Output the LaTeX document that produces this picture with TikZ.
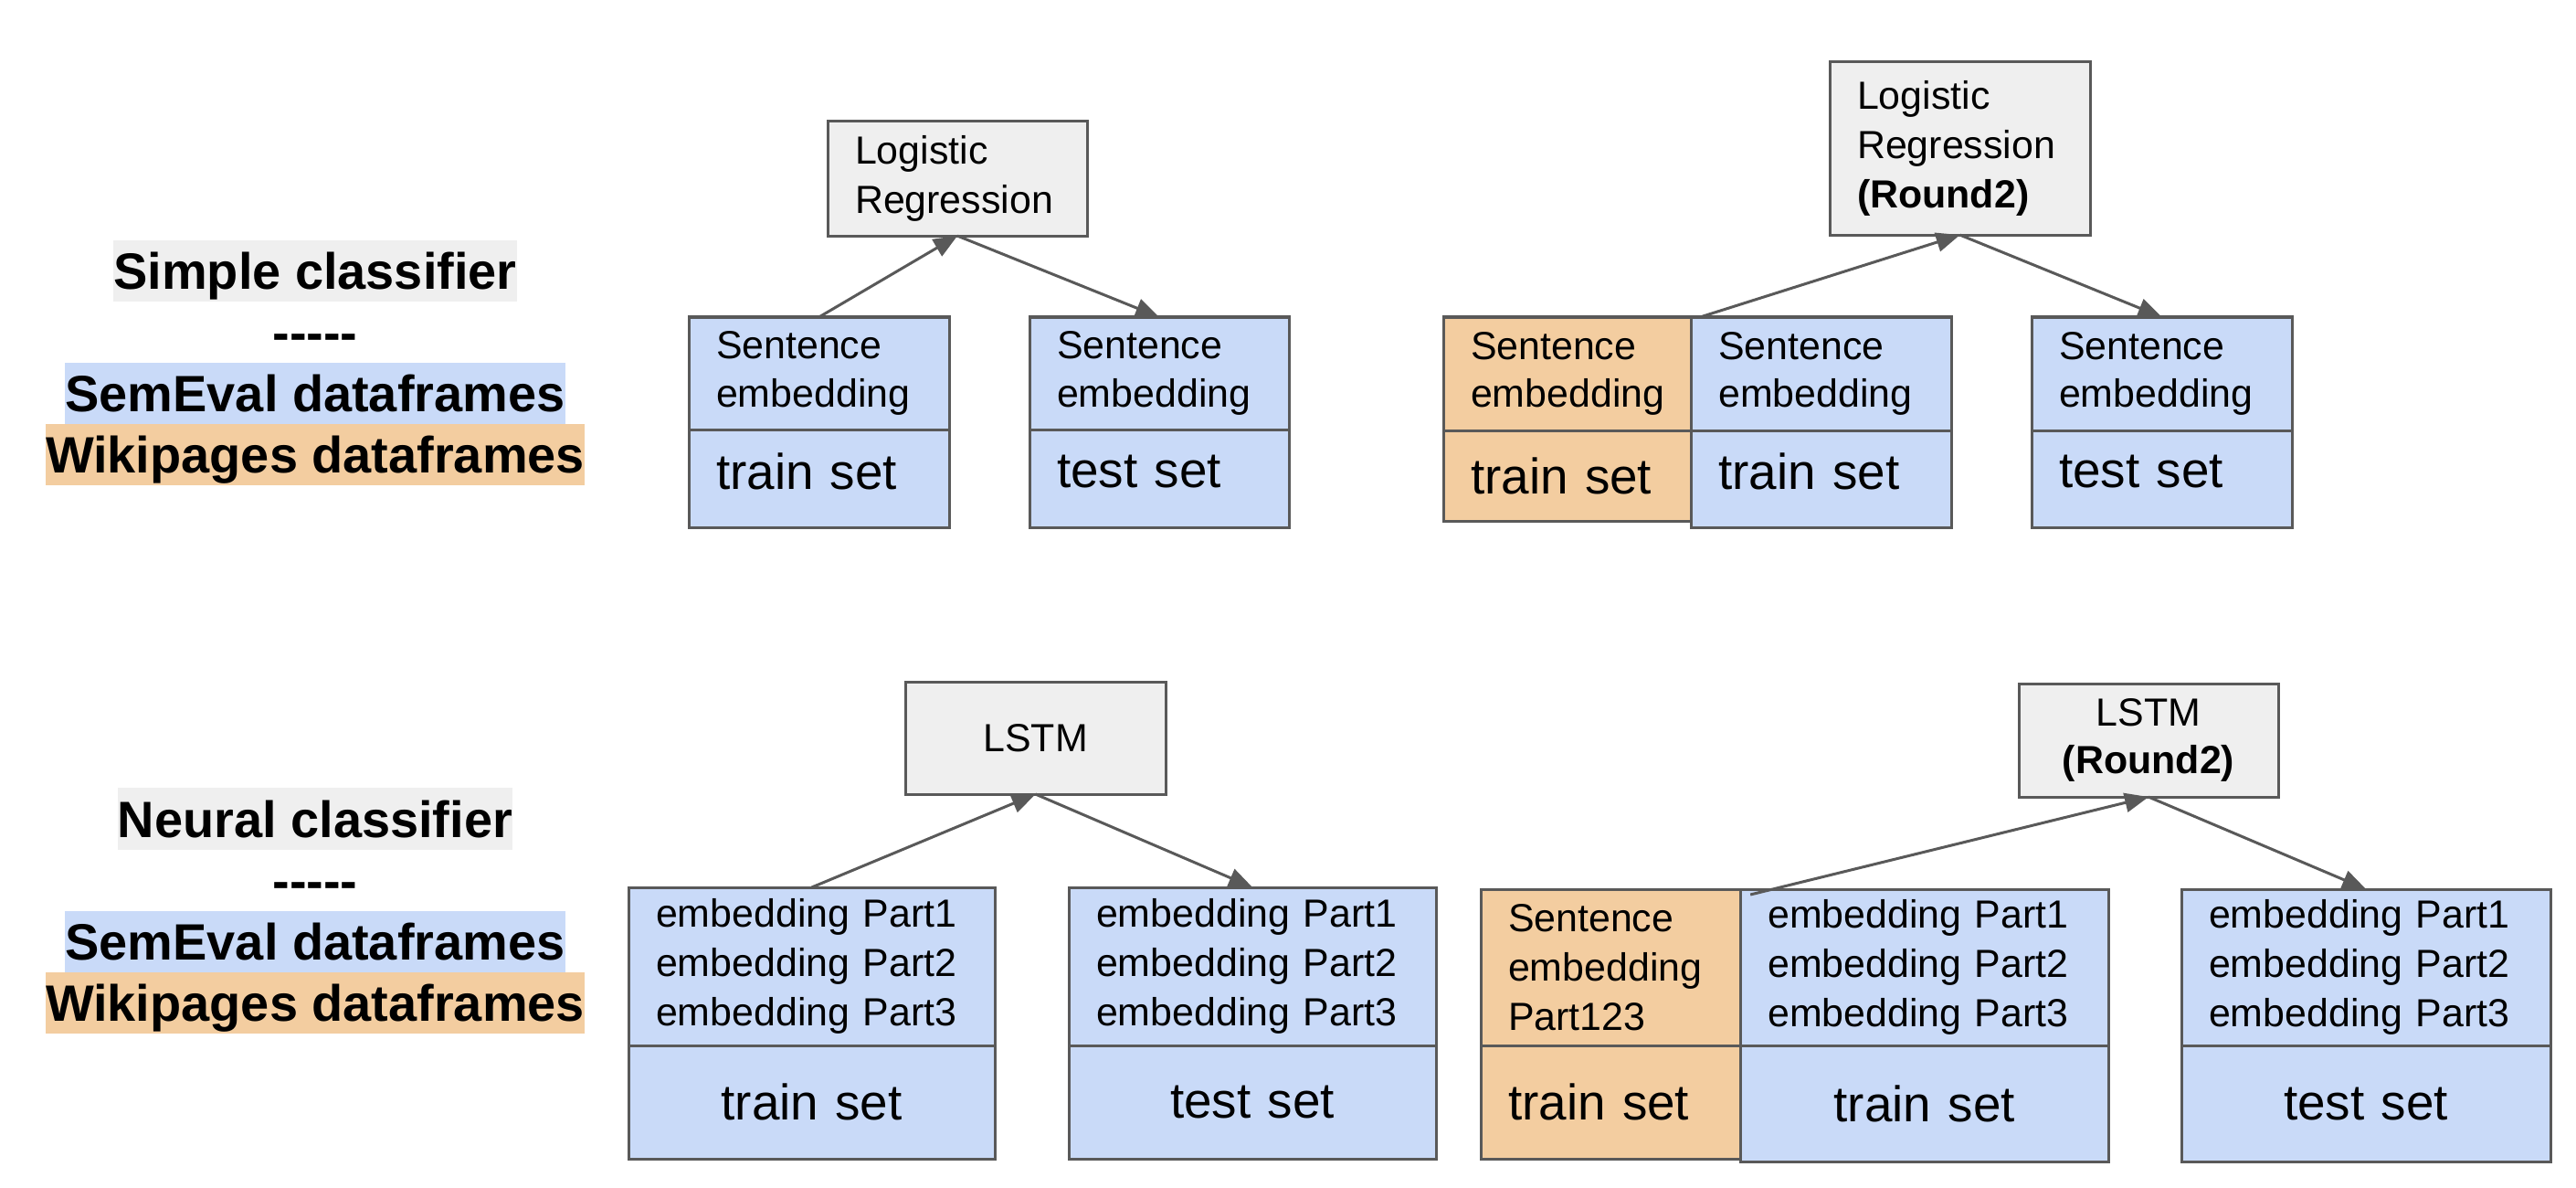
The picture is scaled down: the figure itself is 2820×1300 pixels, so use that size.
\documentclass[tikz,border=0pt]{standalone}
\usepackage{fontspec}
\setmainfont{Liberation Sans}
\usetikzlibrary{positioning,arrows.meta}
\definecolor{edgegray}{HTML}{595959}
\definecolor{modelgray}{HTML}{EFEFEF}
\definecolor{semblue}{HTML}{C9DAF8}
\definecolor{wikiorange}{HTML}{F3CDA0}
\newcommand{\smalltxt}[1]{\fontsize{12.2}{#1}\selectfont}
\tikzset{
  lbl/.style={font=\bfseries\fontsize{15.9}{19}\selectfont, inner sep=0, outer sep=0,
    minimum height=0.67cm, text height=0.504cm, text depth=0.103cm},
  cellbox/.style={draw=edgegray, line width=0.03cm, outer sep=0, inner xsep=0.3cm, inner ysep=0},
  model/.style={cellbox, fill=modelgray},
  sem/.style={cellbox, fill=semblue},
  wiki/.style={cellbox, fill=wikiorange},
  settxt/.style={font=\fontsize{15.6}{18}\selectfont},
  uptxt/.style={settxt, text depth=0.16cm},
  arr/.style={draw=edgegray, line width=0.03cm, -{Triangle[length=0.26cm,width=0.21cm]}},
}
\begin{document}
\begin{tikzpicture}[x=0.01cm, y=-0.01cm]
\useasboundingbox (0,0) rectangle (2820,1300);
% legend, simple classifier
\node[lbl, fill=modelgray] (simple) at (345,296.5) {Simple classifier};
\node[lbl, below=0 of simple] (dash1) {-{}-{}-{}-{}-};
\node[lbl, fill=semblue, below=0 of dash1] (sem1) {SemEval dataframes};
\node[lbl, fill=wikiorange, below=0 of sem1] (wiki1) {Wikipages dataframes};
% legend, neural classifier
\node[lbl, fill=modelgray] (neural) at (345,896) {Neural classifier};
\node[lbl, below=0 of neural] (dash2) {-{}-{}-{}-{}-};
\node[lbl, fill=semblue, below=0 of dash2] (sem2) {SemEval dataframes};
\node[lbl, fill=wikiorange, below=0 of sem2] (wiki2) {Wikipages dataframes};

% logistic regression, round 1
\node[model, anchor=north west, text width=2.24cm, minimum height=1.25cm, align=left,
  font=\smalltxt{15.4}] (lr1) at (906,133) {Logistic\\Regression};
\node[sem, anchor=north west, text width=2.25cm, minimum height=1.23cm, align=left,
  font=\smalltxt{15}] (tr1e) at (754,347) {Sentence\\embedding};
\node[sem, below=0 of tr1e, text width=2.25cm, minimum height=1.07cm, align=left, uptxt] (tr1s) {train set};
\node[sem, anchor=north west, text width=2.24cm, minimum height=1.23cm, align=left,
  font=\smalltxt{15}] (te1e) at (1127,347) {Sentence\\embedding};
\node[sem, below=0 of te1e, text width=2.24cm, minimum height=1.07cm, align=left, uptxt] (te1s) {test set};
\draw[arr] (tr1e.north) -- (lr1.south);
\draw[arr] (lr1.south) -- (te1e.north);

% logistic regression, round 2
\node[model, anchor=north west, text width=2.25cm, minimum height=1.89cm, align=left,
  font=\smalltxt{15.4}] (lr2) at (2003,68) {Logistic\\Regression\\\textbf{(Round2)}};
\node[wiki, anchor=north west, text width=2.11cm, minimum height=1.24cm, align=left,
  font=\smalltxt{15}] (wk2e) at (1580,347) {Sentence\\embedding};
\node[wiki, below=0 of wk2e, text width=2.11cm, minimum height=0.99cm, align=left, settxt] (wk2s) {train set};
\node[sem, right=0 of wk2e, text width=2.25cm, minimum height=1.24cm, align=left,
  font=\smalltxt{15}] (tr2e) {Sentence\\embedding};
\node[sem, below=0 of tr2e, text width=2.25cm, minimum height=1.06cm, align=left, uptxt] (tr2s) {train set};
\node[sem, anchor=north west, text width=2.25cm, minimum height=1.24cm, align=left,
  font=\smalltxt{15}] (te2e) at (2224,347) {Sentence\\embedding};
\node[sem, below=0 of te2e, text width=2.25cm, minimum height=1.06cm, align=left, uptxt] (te2s) {test set};
\draw[arr] ([xshift=0.1cm]tr2e.north west) -- (lr2.south);
\draw[arr] (lr2.south) -- (te2e.north);

% LSTM, round 1
\node[model, anchor=north west, text width=2.25cm, minimum height=1.23cm, align=center,
  font=\smalltxt{14}] (ls3) at (991,746) {LSTM};
\node[sem, anchor=north west, text width=3.41cm, minimum height=1.73cm, align=left,
  font=\smalltxt{15.4}] (tr3e) at (688,971) {embedding Part1\\embedding Part2\\embedding Part3};
\node[sem, below=0 of tr3e, text width=3.41cm, minimum height=1.24cm, align=center, settxt] (tr3s) {train set};
\node[sem, anchor=north west, text width=3.42cm, minimum height=1.73cm, align=left,
  font=\smalltxt{15.4}] (te3e) at (1170,971) {embedding Part1\\embedding Part2\\embedding Part3};
\node[sem, below=0 of te3e, text width=3.42cm, minimum height=1.24cm, align=center, settxt] (te3s) {test set};
\draw[arr] (tr3e.north) -- (ls3.south);
\draw[arr] (ls3.south) -- (te3e.north);

% LSTM, round 2
\node[model, anchor=north west, text width=2.24cm, minimum height=1.24cm, align=center,
  font=\smalltxt{14.8}] (ls4) at (2210,748) {LSTM\\\textbf{(Round2)}};
\node[wiki, anchor=north west, text width=2.24cm, minimum height=1.71cm, align=left,
  font=\smalltxt{15.4}] (wk4e) at (1621,973) {Sentence\\embedding\\Part123};
\node[wiki, below=0 of wk4e, text width=2.24cm, minimum height=1.24cm, align=left, settxt] (wk4s) {train set};
\node[sem, right=0 of wk4e, text width=3.43cm, minimum height=1.71cm, align=left,
  font=\smalltxt{15.4}] (tr4e) {embedding Part1\\embedding Part2\\embedding Part3};
\node[sem, below=0 of tr4e, text width=3.43cm, minimum height=1.27cm, align=center, settxt] (tr4s) {train set};
\node[sem, anchor=north west, text width=3.44cm, minimum height=1.71cm, align=left,
  font=\smalltxt{15.4}] (te4e) at (2388,973) {embedding Part1\\embedding Part2\\embedding Part3};
\node[sem, below=0 of te4e, text width=3.44cm, minimum height=1.27cm, align=center, settxt] (te4s) {test set};
\draw[arr] ([xshift=0.11cm,yshift=-0.06cm]tr4e.north west) -- (ls4.south);
\draw[arr] (ls4.south) -- (te4e.north);
\end{tikzpicture}
\end{document}
